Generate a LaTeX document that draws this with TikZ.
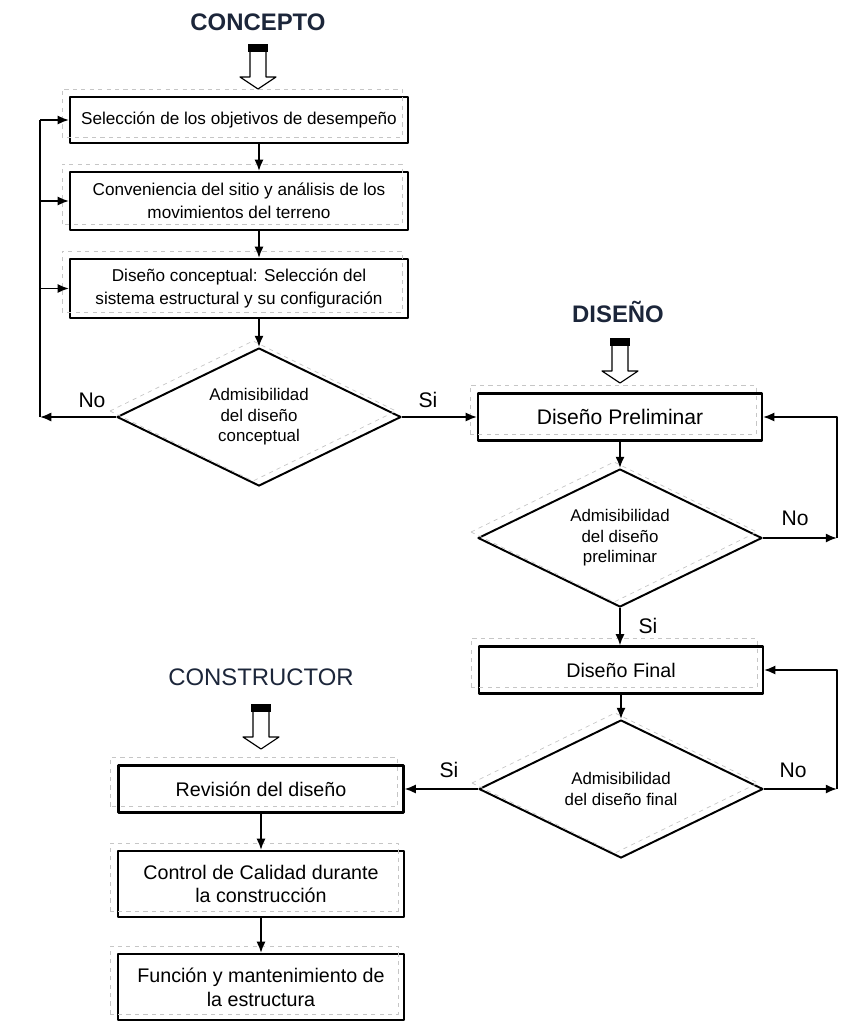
\documentclass[tikz,border=0pt]{standalone}
\usepackage{fontspec}
\setmainfont{Liberation Sans}
\usetikzlibrary{shapes.geometric,arrows.meta}
\definecolor{azul}{RGB}{28,38,58}
\begin{document}
\begin{tikzpicture}[x=0.025cm,y=-0.025cm,>={Latex[length=8pt,width=6.5pt]},line join=round,
	caja/.style={draw,line width=1.5pt,align=center,inner sep=2pt,font=\fontsize{12.2}{16.5}\selectfont},
	rombo/.style={draw,diamond,shape aspect=2,line width=1.4pt,inner sep=0pt,minimum width=7.1cm,minimum height=3.45cm,align=center,font=\fontsize{12}{14.5}\selectfont},
	titulo/.style={font=\fontsize{17}{20}\selectfont\bfseries,text=azul},
	etiq/.style={font=\fontsize{15}{18}\selectfont},
	sombra/.style={draw=gray!45,dashed,line width=0.5pt},
	flecha/.style={->,line width=1.3pt}]
	\useasboundingbox (0,0) rectangle (851,1026);
	%Puntos auxiliares
	\path
	(258,44) coordinate (b1)
	(620,338) coordinate (b2)
	(261,704) coordinate (b3)
	(40,417) coordinate (iz)
	(837,538) coordinate (de1)
	(837,789) coordinate (de2)
	;
	%Cajas y rombos
	\node[caja,minimum width=8.45cm,minimum height=1.15cm] (s1) at (239,120) {Selección de los objetivos de desempeño};
	\node[caja,minimum width=8.45cm,minimum height=1.45cm] (s2) at (239,201) {Conveniencia del sitio y análisis de los\\movimientos del terreno};
	\node[caja,minimum width=8.45cm,minimum height=1.475cm] (s3) at (239,288.5) {Diseño conceptual: Selección del\\sistema estructural y su configuración};
	\node[rombo] (a1) at (259,417) {Admisibilidad\\del diseño\\conceptual};
	\node[caja,minimum width=7.1cm,minimum height=1.175cm,font=\fontsize{15}{18}\selectfont] (dp) at (620,417) {Diseño Preliminar};
	\node[rombo] (a2) at (620,538) {Admisibilidad\\del diseño\\preliminar};
	\node[caja,minimum width=7.1cm,minimum height=1.175cm,font=\fontsize{14}{17}\selectfont] (df) at (621,670) {Diseño Final};
	\node[rombo] (a3) at (621,789) {Admisibilidad\\del diseño final};
	\node[caja,minimum width=7.125cm,minimum height=1.175cm,font=\fontsize{14}{17}\selectfont] (rv) at (261,789) {Revisión del diseño};
	\node[caja,minimum width=7.15cm,minimum height=1.65cm,font=\fontsize{14}{17}\selectfont] (cc) at (261,884) {Control de Calidad durante\\la construcción};
	\node[caja,minimum width=7.15cm,minimum height=1.65cm,font=\fontsize{14}{17}\selectfont] (fm) at (261,987) {Función y mantenimiento de\\la estructura};
	%Sombras
	\foreach \n in {s1,s2,s3,dp,df,rv,cc,fm}{
		\draw[sombra] ([shift={(-7,-7)}]\n.south west) rectangle ([shift={(-7,-7)}]\n.north east);}
	\foreach \n in {a1,a2,a3}{
		\draw[sombra] ([shift={(-6,-6)}]\n.west)--([shift={(-6,-6)}]\n.north)--([shift={(-6,-6)}]\n.east)--([shift={(-6,-6)}]\n.south)--cycle;}
	%Titulos
	\node[titulo] (t1) at (258,22) {CONCEPTO};
	\node[titulo] (t2) at (618,312) {DISEÑO};
	\node[titulo,font=\fontsize{17}{20}\selectfont] (t3) at (261,677) {CONSTRUCTOR};
	\foreach \p in {b1,b2,b3}{
		\fill[shift={(\p)}] (-10,0) rectangle (10,8);
		\draw[shift={(\p)},line width=0.8pt] (-8,8)--(-8,33)--(-18,33)--(0,45)--(18,33)--(8,33)--(8,8);}
	%Flechas
	\draw[flecha] (s1.south -| a1.north)--(s2.north -| a1.north);
	\draw[flecha] (s2.south -| a1.north)--(s3.north -| a1.north);
	\draw[flecha] (s3.south -| a1.north)--(a1.north);
	\draw[flecha] (a1.west)--(iz);
	\draw[line width=1.3pt] (iz)--(iz |- s1.west);
	\foreach \n in {s1,s2,s3}{
		\draw[flecha] (iz |- \n.west)--(\n.west);}
	\draw[flecha] (a1.east)--(dp.west);
	\draw[flecha] (dp.south)--(a2.north);
	\draw[flecha] (a2.east)--(de1);
	\draw[flecha] (de1)--(de1 |- dp.east)--(dp.east);
	\draw[flecha] (a2.south)--(a2.south |- df.north);
	\draw[flecha] (df.south)--(a3.north);
	\draw[flecha] (a3.east)--(de2);
	\draw[flecha] (de2)--(de2 |- df.east)--(df.east);
	\draw[flecha] (a3.west)--(a3.west -| rv.east);
	\draw[flecha] (rv.south)--(cc.north);
	\draw[flecha] (cc.south)--(fm.north);
	%Etiquetas
	\foreach \x/\y/\t in {92/400/No,428/400/Si,795/518/No,648/626/Si,449/770/Si,793/770/No}{
		\node[etiq] at (\x,\y) {\t};}
\end{tikzpicture}
\end{document}
